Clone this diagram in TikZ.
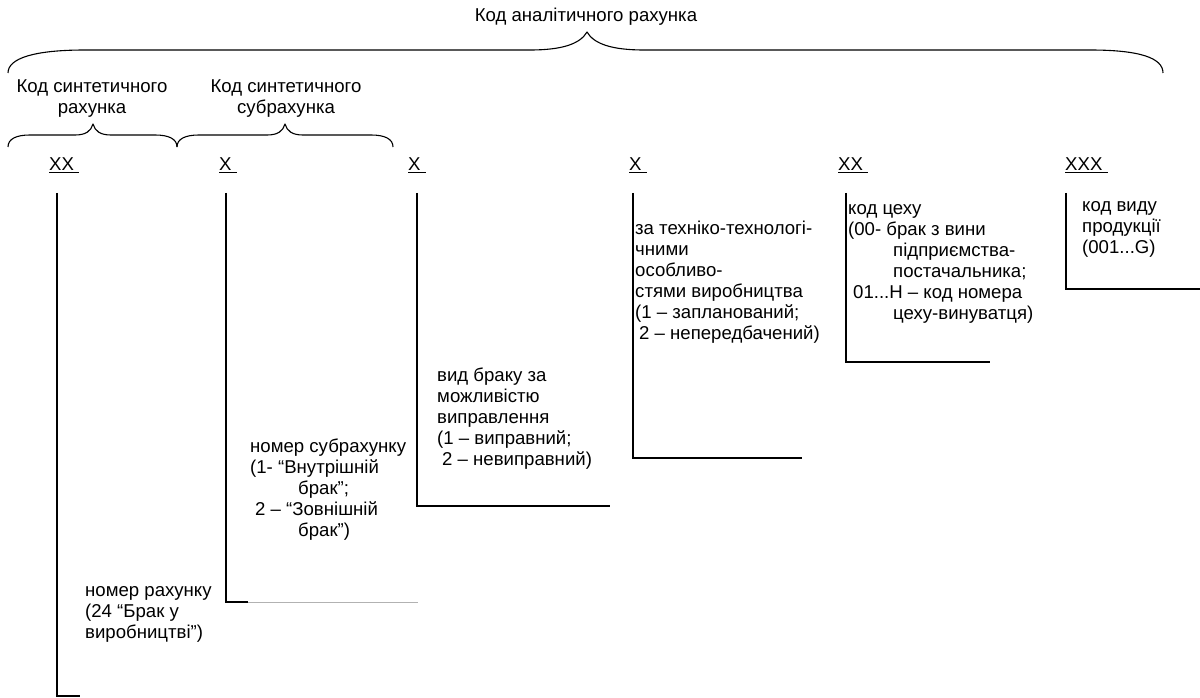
\documentclass[tikz,border=0pt]{standalone}
\usepackage{fontspec}
\setmainfont{Liberation Sans}
\usetikzlibrary{positioning}
\tikzset{
    every node/.style={font={\fontsize{18.6}{21}\selectfont},inner sep=0pt},
    head/.style={anchor=north,align=center},
    digit/.style={anchor=base west},
    note/.style={anchor=north west,align=left},
    leg/.style={line width=1.3pt},
    faintleg/.style={line width=0.7pt,draw=gray!60},
    curly/.style={line width=1.1pt,line join=round}
}

\begin{document}
\begin{tikzpicture}[x=1pt,y=-1pt]
\useasboundingbox (0,0) rectangle (1200,698);
% headings and braces
\node (ttl) at (586,17) {Код аналітичного рахунка};
\node[head] (synl) at (92,78) {\strut Код синтетичного\\рахунка};
\node[head] (subl) at (286,78) {\strut Код синтетичного\\субрахунка};
\draw[curly] (8,73) .. controls (8,58) and (35,50) .. (85,50) -- (530,50)
    .. controls (562,50) and (580,44) .. (587,32)
    .. controls (594,44) and (612,50) .. (644,50) -- (1090,50)
    .. controls (1140,50) and (1163,58) .. (1163,73);
\draw[curly] (8,147) .. controls (8,139) and (16,135) .. (30,135) -- (75,135)
    .. controls (86,135) and (91,131) .. (93,124)
    .. controls (95,131) and (100,135) .. (111,135) -- (155,135)
    .. controls (169,135) and (177,139) .. (177,147);
\draw[curly] (177,147) .. controls (177,139) and (185,135) .. (199,135) -- (267,135)
    .. controls (278,135) and (283,131) .. (285,124)
    .. controls (287,131) and (292,135) .. (303,135) -- (371,135)
    .. controls (385,135) and (393,139) .. (393,147);
% code positions
\node[digit] (d1) at (49,171) {\underline{XX\ }};
\node[digit] (d2) at (219,171) {\underline{X\ }};
\node[digit] (d3) at (408,171) {\underline{X\ }};
\node[digit] (d4) at (629,171) {\underline{X\ }};
\node[digit] (d5) at (838,171) {\underline{XX\ }};
\node[digit] (d6) at (1065,171) {\underline{XXX\ }};
% explanations
\node[note] (acc) at (85,582) {\strut номер рахунку\\(24 “Брак у\\виробництві”)};
\node[note] (subacc) at (250,438) {\strut номер субрахунку\\(1- “Внутрішній\\\hspace*{48pt}брак”;\\\hspace*{5pt}2 – “Зовнішній\\\hspace*{48pt}брак”)};
\node[note] (fix) at (437,367) {\strut вид браку за\\можливістю\\виправлення\\(1 – виправний;\\\hspace*{5pt}2 – невиправний)};
\node[note] (tech) at (635,220) {\strut за техніко-технологі-\\чними\\особливо-\\стями виробництва\\(1 – запланований;\\\hspace*{4pt}2 – непередбачений)};
\node[note] (shop) at (848,200) {\strut код цеху\\(00- брак з вини\\\hspace*{45pt}підприємства-\\\hspace*{45pt}постачальника;\\\hspace*{5pt}01...Н – код номера\\\hspace*{45pt}цеху-винуватця)};
\node[note] (prod) at (1082,197) {\strut код виду\\продукції\\(001...G)};
% leader lines
\coordinate (t1) at (57,193);   \coordinate (b1) at (57,696);   \coordinate (e1) at (80,696);
\coordinate (t2) at (226,193);  \coordinate (b2) at (226,602);  \coordinate (m2) at (248,602);  \coordinate (e2) at (418,602);
\coordinate (t3) at (417,193);  \coordinate (b3) at (417,506);  \coordinate (e3) at (610,506);
\coordinate (t4) at (633,193);  \coordinate (b4) at (633,458);  \coordinate (e4) at (802,458);
\coordinate (t5) at (846,193);  \coordinate (b5) at (846,362);  \coordinate (e5) at (990,362);
\coordinate (t6) at (1066,193); \coordinate (b6) at (1066,289); \coordinate (e6) at (1200,289);
\draw[leg] (t1) -- (b1) -- (e1);
\draw[leg] (t2) -- (b2) -- (m2);
\draw[faintleg] (m2) -- (e2);
\draw[leg] (t3) -- (b3) -- (e3);
\draw[leg] (t4) -- (b4) -- (e4);
\draw[leg] (t5) -- (b5) -- (e5);
\draw[leg] (t6) -- (b6) -- (e6);
\end{tikzpicture}
\end{document}
